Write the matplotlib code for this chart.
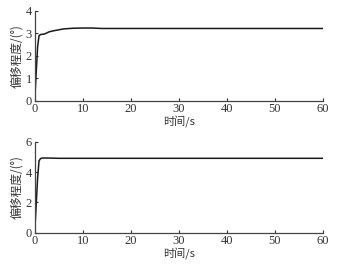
import matplotlib
matplotlib.use('Agg')
import matplotlib.pyplot as plt

# top panel: offset vs time
t_top = [0, 0.3, 0.6, 0.9, 1.2, 2.0, 3.0, 4.0, 5.0, 6.0, 8.0, 10.0, 12.0, 14.0, 20.0, 30.0, 40.0, 50.0, 60.0]
y_top = [0, 1.2, 2.4, 2.9, 2.95, 2.97, 3.07, 3.12, 3.16, 3.2, 3.23, 3.24, 3.24, 3.22, 3.22, 3.22, 3.22, 3.22, 3.22]

# bottom panel
t_bot = [0, 0.3, 0.6, 0.9, 1.2, 1.6, 2.5, 5.0, 10.0, 20.0, 30.0, 40.0, 50.0, 60.0]
y_bot = [0, 1.8, 3.6, 4.75, 4.9, 4.94, 4.94, 4.92, 4.92, 4.92, 4.92, 4.92, 4.92, 4.92]

x_ticks = [0, 10, 20, 30, 40, 50, 60]
y_ticks_top = [0, 1, 2, 3, 4]
y_ticks_bot = [0, 2, 4, 6]

cjk = ['Noto Sans CJK SC', 'DejaVu Sans']
num_font = 'Liberation Serif'

fig = plt.figure(figsize=(3.39, 2.64), dpi=100)
ax1 = fig.add_axes([0.1024, 0.6186, 0.849, 0.3398])
ax2 = fig.add_axes([0.1024, 0.1186, 0.849, 0.3436])

for ax, t, y, yt in [(ax1, t_top, y_top, y_ticks_top), (ax2, t_bot, y_bot, y_ticks_bot)]:
    ax.plot(t, y, color='#1a1a1a', lw=1.1)
    ax.set_xlim(0, 60)
    ax.set_ylim(yt[0], yt[-1])
    ax.set_xticks(x_ticks)
    ax.set_yticks(yt)
    ax.tick_params(direction='in', length=2.5, width=0.8, labelsize=9, pad=2, colors='#333333')
    for lab in ax.get_xticklabels() + ax.get_yticklabels():
        lab.set_fontfamily(num_font)
    for s in ['top', 'right']:
        ax.spines[s].set_visible(False)
    for s in ['left', 'bottom']:
        ax.spines[s].set_color('#444444')
        ax.spines[s].set_linewidth(0.9)
    ax.set_xlabel('时间/s', family=cjk, fontsize=8, labelpad=0, color='#333333')
    ax.set_ylabel('偏移程度/(°)', family=cjk, fontsize=8.5, labelpad=2, color='#333333')

fig.savefig('out.png', dpi=100)
